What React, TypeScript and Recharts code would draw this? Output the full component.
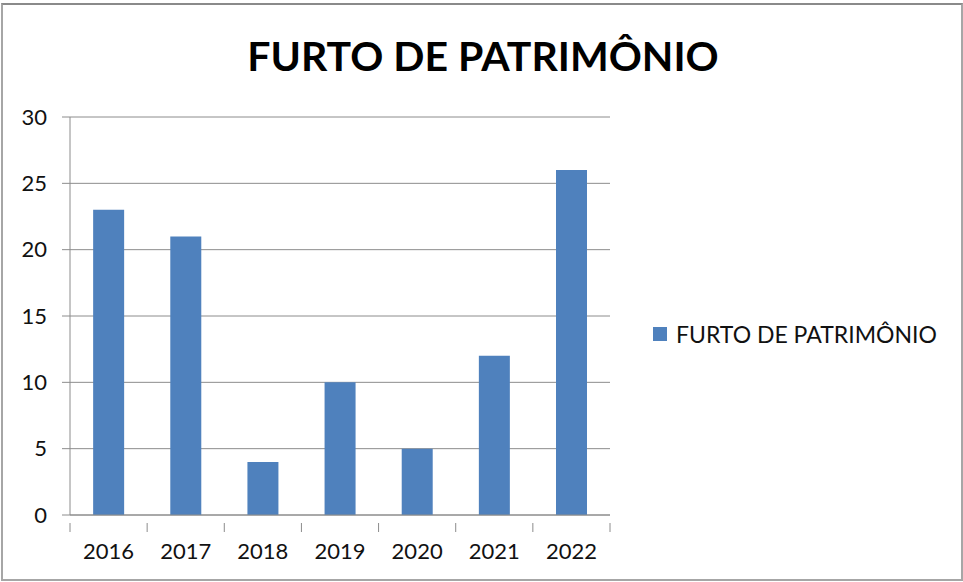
import React from "react";
import { BarChart, Bar, XAxis, YAxis, CartesianGrid } from "recharts";

const years = ["2016", "2017", "2018", "2019", "2020", "2021", "2022"];
const furtos = [23, 21, 4, 10, 5, 12, 26];
const yTicks = [0, 5, 10, 15, 20, 25, 30];
const seriesName = "FURTO DE PATRIMÔNIO";

const data = years.map((year, i) => ({ year, value: furtos[i] }));

const FONT = "Lato, 'Open Sans', sans-serif";
const GRID = "#8c8c8c";
const BAR = "#4f81bd";
const TEXT = "#111";

// category label plus boundary tick marks (Excel style)
const YearTick = (props: any) => {
  const { x, y, payload, index } = props;
  const half = payload.offset ?? 0;
  return (
    <g>
      <line x1={x - half} y1={y} x2={x - half} y2={y + 9} stroke={GRID} />
      {index === years.length - 1 && (
        <line x1={x + half} y1={y} x2={x + half} y2={y + 9} stroke={GRID} />
      )}
      <text x={x} y={y + 30} textAnchor="middle" dominantBaseline="middle" fill={TEXT} fontSize={22} fontFamily={FONT}>
        {payload.value}
      </text>
    </g>
  );
};

export default function App() {
  return (
    <div style={{ position: "absolute", left: 0, top: 0, width: 963, height: 582, background: "#fff" }}>
      <div
        style={{
          position: "absolute",
          left: 1,
          top: 3,
          width: 958,
          height: 574,
          border: "2px solid #a6a6a6",
          borderTopColor: "#8a8a8a",
        }}
      />
      <div
        style={{
          position: "absolute",
          left: 0,
          top: 31,
          width: 966,
          textAlign: "center",
          fontFamily: FONT,
          fontWeight: 700,
          fontSize: 41,
          color: "#000",
        }}
      >
        {seriesName}
      </div>
      <BarChart
        width={963}
        height={582}
        data={data}
        margin={{ top: 117, right: 353, bottom: 0, left: 0 }}
        barCategoryGap="30%"
        style={{ position: "absolute", left: 0, top: 0 }}
      >
        <CartesianGrid vertical={false} stroke={GRID} />
        <XAxis
          dataKey="year"
          height={67}
          axisLine={{ stroke: GRID }}
          tickLine={false}
          tick={<YearTick />}
          interval={0}
        />
        <YAxis
          width={70}
          domain={[0, 30]}
          ticks={yTicks}
          interval={0}
          axisLine={{ stroke: GRID }}
          tickLine={{ stroke: GRID }}
          tickSize={8}
          tickMargin={15}
          tick={{ fill: TEXT, fontSize: 22, fontFamily: FONT }}
        />
        <Bar dataKey="value" name={seriesName} fill={BAR} isAnimationActive={false} />
      </BarChart>
      <div
        style={{
          position: "absolute",
          left: 653,
          top: 320,
          display: "flex",
          alignItems: "center",
          fontFamily: FONT,
          fontSize: 23,
          color: TEXT,
        }}
      >
        <span style={{ width: 14, height: 14, background: BAR, marginRight: 9, display: "inline-block" }} />
        <span>{seriesName}</span>
      </div>
    </div>
  );
}
